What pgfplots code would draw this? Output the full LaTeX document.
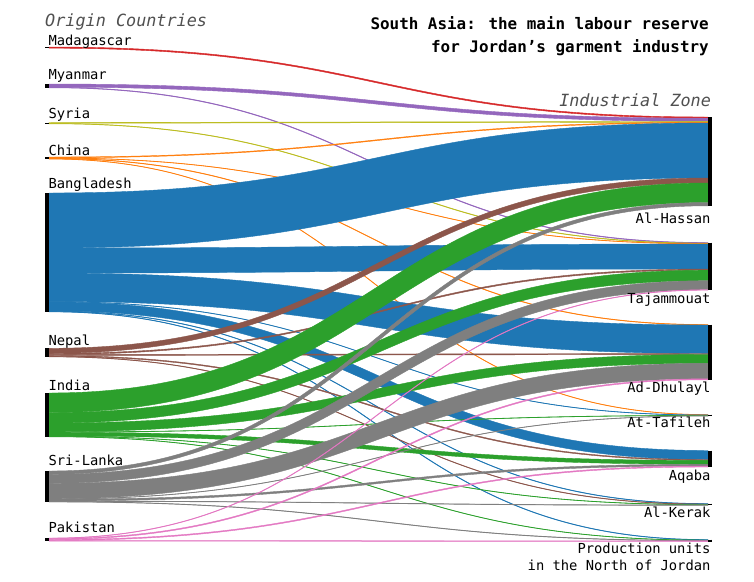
\documentclass[border=0pt]{standalone}
\usepackage{fontspec}
\setmainfont{DejaVu Sans Mono}
\setmonofont{DejaVu Sans Mono}
\usepackage{pgfplots}
\pgfplotsset{compat=1.18}
\usepgfplotslibrary{patchplots}

\definecolor{headgray}{RGB}{80,80,80}

% one flat colormap per origin country (d3 category10)
\pgfplotsset{
  colormap={cMad}{rgb255=(214,39,40) rgb255=(214,39,40)},
  colormap={cMya}{rgb255=(148,103,189) rgb255=(148,103,189)},
  colormap={cSyr}{rgb255=(188,189,34) rgb255=(188,189,34)},
  colormap={cChi}{rgb255=(255,127,14) rgb255=(255,127,14)},
  colormap={cBan}{rgb255=(31,119,180) rgb255=(31,119,180)},
  colormap={cNep}{rgb255=(140,86,75) rgb255=(140,86,75)},
  colormap={cInd}{rgb255=(44,160,44) rgb255=(44,160,44)},
  colormap={cSri}{rgb255=(127,127,127) rgb255=(127,127,127)},
  colormap={cPak}{rgb255=(227,119,194) rgb255=(227,119,194)},
}

% node tops (px from top); running offsets are kept in \s<src> and \t<tgt>
\newcommand\setnode[2]{\expandafter\xdef\csname #1\endcsname{#2}}
\setnode{sMad}{47}   \setnode{sMya}{84}   \setnode{sSyr}{122.5}
\setnode{sChi}{157}  \setnode{sBan}{193}  \setnode{sNep}{348.3}
\setnode{sInd}{393}  \setnode{sSri}{471}  \setnode{sPak}{538}
\setnode{tAlH}{117}  \setnode{tTaj}{242.5} \setnode{tAdD}{324.5}
\setnode{tAtT}{414.5} \setnode{tAqa}{450.5} \setnode{tAlK}{503.5}
\setnode{tPro}{539.5}

% \flow{source}{target}{width}: one band, coons patch with bezier edges.
% control points of the two edges are pulled apart a little so the band
% keeps its width across the slope, like a stroked link
\newcommand\flow[3]{%
  \pgfmathsetmacro\fa{\csname s#1\endcsname}%
  \pgfmathsetmacro\fb{\fa+#3}%
  \pgfmathsetmacro\fc{\csname t#2\endcsname}%
  \pgfmathsetmacro\fd{\fc+#3}%
  \expandafter\xdef\csname s#1\endcsname{\fb}%
  \expandafter\xdef\csname t#2\endcsname{\fd}%
  \pgfmathsetmacro\fs{2*abs(\fc-\fa)/659}%
  \pgfmathsetmacro\fdel{(\fs>0.001)*#3*(sqrt(1+\fs*\fs)-1)/(1.5*max(\fs,0.001))}%
  \pgfmathsetmacro\fsg{(\fc>\fa) ? 1 : -1}%
  \pgfmathsetmacro\xt{378.5+\fsg*\fdel}%
  \pgfmathsetmacro\xb{378.5-\fsg*\fdel}%
  \edef\fplot{\noexpand\addplot[patch, patch type=coons, shader=flat,
    colormap name=c#1, point meta={0}] coordinates {
    (49,\fa) (\xt,\fa) (\xt,\fc) (708,\fc)
    (708,\fc) (708,\fd)
    (708,\fd) (\xb,\fd) (\xb,\fb) (49,\fb)
    (49,\fb) (49,\fa)};}%
  \fplot}

\newcommand\lbar[2]{%
  \edef\fplot{\noexpand\addplot[black, line width=4pt, line cap=butt]
    coordinates {(47,#2) (47,\csname s#1\endcsname)};}\fplot}
\newcommand\rbar[2]{%
  \edef\fplot{\noexpand\addplot[black, line width=4pt, line cap=butt]
    coordinates {(710,#2) (710,\csname t#1\endcsname)};}\fplot}

\begin{document}
\begin{tikzpicture}
\fill[white] (0,0) rectangle (754pt,581pt);
\useasboundingbox (0,0) rectangle (754pt,581pt);
\begin{axis}[
  width=754pt, height=581pt, scale only axis,
  xmin=0, xmax=754, ymin=0, ymax=581, y dir=reverse,
  hide axis, clip=false,
  point meta min=0, point meta max=1,
  every node/.style={inner sep=0pt, outer sep=0pt},
]
\flow{Mad}{AlH}{1.2}
\flow{Mya}{AlH}{3.2} \flow{Mya}{Taj}{0.6}
\flow{Syr}{AlH}{0.8} \flow{Syr}{Taj}{0.5}
\flow{Chi}{AlH}{0.8} \flow{Chi}{Taj}{0.4} \flow{Chi}{AdD}{0.5} \flow{Chi}{AtT}{0.4}
\flow{Ban}{AlH}{55} \flow{Ban}{Taj}{25} \flow{Ban}{AdD}{28.5} \flow{Ban}{AtT}{0.4}
\flow{Ban}{Aqa}{9} \flow{Ban}{AlK}{0.5} \flow{Ban}{Pro}{0.5}
\flow{Nep}{AlH}{5} \flow{Nep}{Taj}{1.2} \flow{Nep}{AdD}{1} \flow{Nep}{Aqa}{0.9}
\flow{Nep}{AlK}{0.5}
\flow{Ind}{AlH}{19.5} \flow{Ind}{Taj}{10.5} \flow{Ind}{AdD}{8.8} \flow{Ind}{AtT}{0.4}
\flow{Ind}{Aqa}{3.8} \flow{Ind}{AlK}{0.4} \flow{Ind}{Pro}{0.4}
\flow{Sri}{AlH}{3.3} \flow{Sri}{Taj}{9} \flow{Sri}{AdD}{15.5} \flow{Sri}{AtT}{0.4}
\flow{Sri}{Aqa}{1.8} \flow{Sri}{AlK}{0.5} \flow{Sri}{Pro}{0.5}
\flow{Pak}{Taj}{0.5} \flow{Pak}{AdD}{1} \flow{Pak}{Aqa}{1} \flow{Pak}{Pro}{0.6}

\lbar{Mad}{47} \lbar{Mya}{84} \lbar{Syr}{122.5} \lbar{Chi}{157} \lbar{Ban}{193}
\lbar{Nep}{348.3} \lbar{Ind}{393} \lbar{Sri}{471} \lbar{Pak}{538}
\rbar{AlH}{117} \rbar{Taj}{242.5} \rbar{AdD}{324.5} \rbar{AtT}{414.5}
\rbar{Aqa}{450.5} \rbar{AlK}{503.5} \rbar{Pro}{539.5}

\begin{scope}[font=\fontsize{13.8}{16}\selectfont]
\node[anchor=base west] at (axis cs:45,45) {Madagascar};
\node[anchor=base west] at (axis cs:45,79.5) {Myanmar};
\node[anchor=base west] at (axis cs:45,118.3) {Syria};
\node[anchor=base west] at (axis cs:45,155) {China};
\node[anchor=base west] at (axis cs:45,188.3) {Bangladesh};
\node[anchor=base west] at (axis cs:45,345.7) {Nepal};
\node[anchor=base west] at (axis cs:45,390) {India};
\node[anchor=base west] at (axis cs:45,465) {Sri-Lanka};
\node[anchor=base west] at (axis cs:45,532.7) {Pakistan};
\node[anchor=base east] at (axis cs:714,223) {Al-Hassan};
\node[anchor=base east] at (axis cs:714,303.5) {Tajammouat};
\node[anchor=base east] at (axis cs:714,392.3) {Ad-Dhulayl};
\node[anchor=base east] at (axis cs:714,427.3) {At-Tafileh};
\node[anchor=base east] at (axis cs:714,480) {Aqaba};
\node[anchor=base east] at (axis cs:714,517) {Al-Kerak};
\node[anchor=base east] at (axis cs:714,553.3) {Production units};
\node[anchor=base east] at (axis cs:714,570.7) {in the North of Jordan};
\end{scope}

\node[anchor=base west, text=headgray, font=\fontsize{16.8}{20}\selectfont\itshape]
  at (axis cs:41.7,26) {Origin Countries};
\node[anchor=base east, text=headgray, font=\fontsize{16.8}{20}\selectfont\itshape]
  at (axis cs:714.5,106) {Industrial Zone};
\node[anchor=base east, font=\fontsize{15.9}{20}\selectfont\bfseries]
  at (axis cs:712.3,29.3) {South Asia: the main labour reserve};
\node[anchor=base east, font=\fontsize{15.9}{20}\selectfont\bfseries]
  at (axis cs:712.3,52.7) {for Jordan’s garment industry};
\end{axis}
\end{tikzpicture}
\end{document}
